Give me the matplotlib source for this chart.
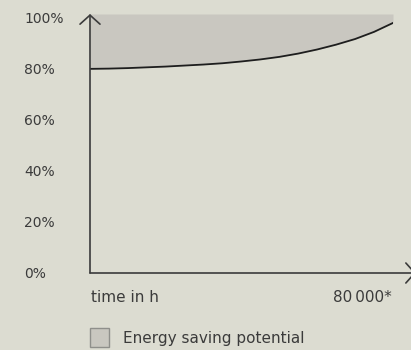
import numpy as np
import matplotlib
matplotlib.use("Agg")
import matplotlib.pyplot as plt
from matplotlib.patches import Rectangle

# luminous flux over operating time
hours = [0, 5000, 10000, 15000, 20000, 25000, 30000, 35000, 40000,
         45000, 50000, 55000, 60000, 65000, 70000, 75000, 80000]
flux = [80.0, 80.1, 80.3, 80.6, 80.9, 81.3, 81.7, 82.2, 82.9,
        83.7, 84.7, 86.0, 87.6, 89.5, 91.7, 94.5, 98.0]
yticks = [0, 20, 40, 60, 80, 100]
ytick_labels = ["0%", "20%", "40%", "60%", "80%", "100%"]
x_label_left = "time in h"
x_label_right = "80\u2009000*"
legend_label = "Energy saving potential"

BG = "#dcdcd1"
FILL = "#c9c7c0"
TXT = "#3b3b3b"
W, H = 411, 350

plt.rcParams['font.family'] = ['DejaVu Sans']

fig = plt.figure(figsize=(W / 100, H / 100), dpi=100, facecolor=BG)
# axes: x 90..393 px, y 273..14 px
ax = fig.add_axes([90 / W, 1 - 273 / H, 303 / W, 259 / H])
ax.set_facecolor(BG)
ax.set_xlim(0, 80000)
ax.set_ylim(0, 101.5)

ax.fill_between(hours, flux, 101.5, color=FILL, lw=0)
ax.plot(hours, flux, color="#1e1e1e", lw=1.3)

for s in ax.spines.values():
    s.set_visible(False)
ax.set_xticks([])
ax.set_yticks(yticks)
ax.set_yticklabels(ytick_labels)
ax.tick_params(axis='y', length=0, pad=47.5, labelsize=10, labelcolor=TXT)
for lab in ax.get_yticklabels():
    lab.set_horizontalalignment('left')

arrow = dict(arrowstyle='->, head_length=0.65, head_width=0.72', lw=1.2,
             color=TXT, shrinkA=0, shrinkB=0)
ax.annotate('', xy=(0, 1.0), xytext=(0, 0), xycoords='axes fraction',
            arrowprops=arrow, annotation_clip=False)
ax.annotate('', xy=((416 - 90) / 303, 0), xytext=(0, 0), xycoords='axes fraction',
            arrowprops=arrow, annotation_clip=False)

fig.text(91 / W, 1 - 298 / H, x_label_left, ha='left', va='center',
         fontsize=11, color=TXT)
fig.text(392 / W, 1 - 298 / H, x_label_right, ha='right', va='center',
         fontsize=11, color=TXT)

fig.patches.append(Rectangle((90 / W, 1 - 347 / H), 19 / W, 19 / H,
                             transform=fig.transFigure, facecolor=FILL,
                             edgecolor="#8f8f8b", lw=1))
fig.text(123 / W, 1 - 338 / H, legend_label, ha='left', va='center',
         fontsize=11, color=TXT)

fig.savefig("out.png", dpi=100, facecolor=BG)
